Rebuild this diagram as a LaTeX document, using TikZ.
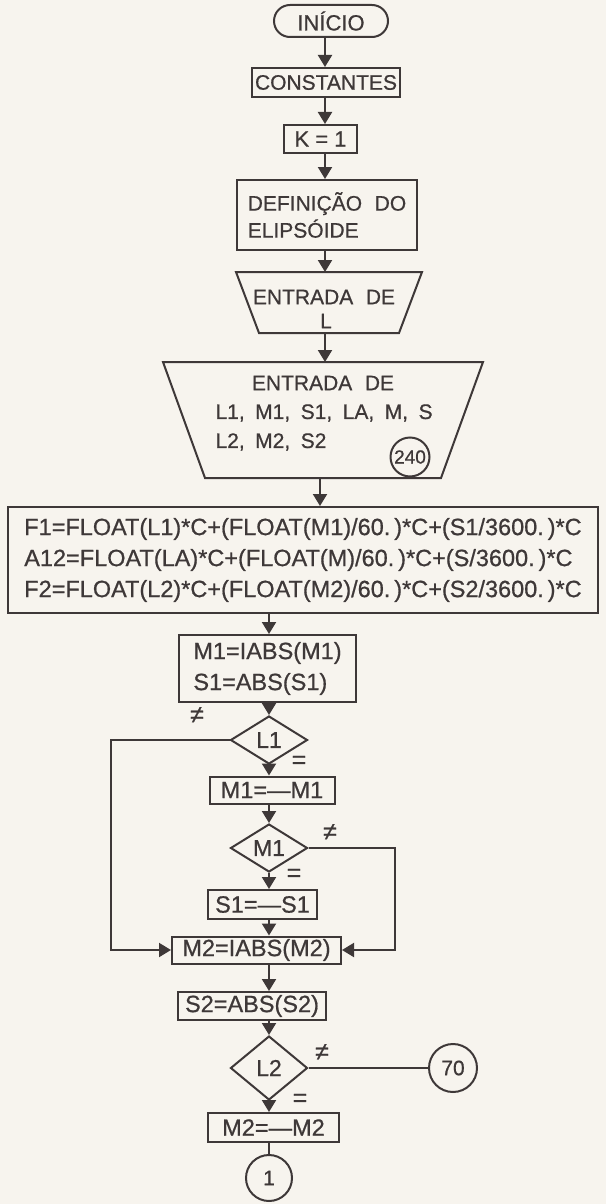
\documentclass[tikz,border=0pt]{standalone}
\usepackage{fontspec}
\setmainfont{Liberation Sans}
\newfontfamily\heavy{Liberation Sans}[FakeBold=0.7]
\usetikzlibrary{arrows.meta,shapes.geometric,shapes.misc}
\definecolor{ink}{HTML}{3E3838}
\definecolor{paper}{HTML}{F7F4EE}
\begin{document}
\begin{tikzpicture}[x=1pt,y=-1pt,
  every node/.style={text=ink, font=\heavy\fontsize{21}{27}\selectfont},
  box/.style={draw=ink, line width=2pt, rectangle, inner sep=0pt},
  dia/.style={draw=ink, line width=2pt, diamond, inner sep=0pt, minimum width=77pt, minimum height=48pt, font=\heavy\fontsize{23}{23}\selectfont},
  circ/.style={draw=ink, line width=2pt, circle, inner sep=0pt},
  arr/.style={draw=ink, line width=2pt, -{Triangle[width=14pt,length=12pt]}},
  ln/.style={draw=ink, line width=2pt},
  shp/.style={draw=ink, line width=2pt, line join=miter},
  lab/.style={font=\heavy\fontsize{25}{25}\selectfont},
  big/.style={font=\heavy\fontsize{23.5}{31}\selectfont}
]
\fill[paper] (0,0) rectangle (606,1204);
\useasboundingbox (0,0) rectangle (606,1204);
\coordinate (ax1) at (325,0);
\coordinate (ax2) at (269,0);

% top column
\node[box, rounded rectangle, minimum width=114pt, minimum height=32pt, font=\heavy\fontsize{22}{22}\selectfont] (ini) at (331,21) {INÍCIO};
\node[box, minimum width=148pt, minimum height=29pt] (const) at (326,82.5) {CONSTANTES};
\node[box, minimum width=73pt, minimum height=28pt, font=\heavy\fontsize{22}{22}\selectfont] (k) at (320.5,139) {K = 1};
\node[box, minimum width=180pt, minimum height=70pt, align=left] (def) at (327,215) {DEFINIÇÃO\hspace{0.6em}DO\\ELIPSÓIDE};

% trapezoid 1
\draw[shp] (236,272) -- (422,272) -- (399,333) -- (259,333) -- cycle;
\coordinate (t1n) at (325,272);
\coordinate (t1s) at (325,333);
\node (t1a) at (324,297) {ENTRADA\hspace{0.6em}DE};
\node (t1b) at (326,321) {L};

% trapezoid 2
\draw[shp] (163,362) -- (483,362) -- (441,478) -- (205,478) -- cycle;
\coordinate (t2n) at (325,362);
\coordinate (t2s) at (320,478);
\node (t2a) at (323,383) {ENTRADA\hspace{0.6em}DE};
\node[anchor=west] (t2b) at (212,413) {L1,\hspace{0.5em}M1,\hspace{0.5em}S1,\hspace{0.5em}LA,\hspace{0.5em}M,\hspace{0.5em}S};
\node[anchor=west] (t2c) at (212,442) {L2,\hspace{0.5em}M2,\hspace{0.5em}S2};
\node[circ, minimum size=39pt, font=\heavy\fontsize{19}{19}\selectfont] (c240) at (410,457) {240};

% formula box
\node[box, big, minimum width=590pt, minimum height=106pt, align=left] (fbox) at (303,560)
 {F1=FLOAT(L1)*C+(FLOAT(M1)/60.\,)*C+(S1/3600.\,)*C\\
  A12=FLOAT(LA)*C+(FLOAT(M)/60.\,)*C+(S/3600.\,)*C\\
  F2=FLOAT(L2)*C+(FLOAT(M2)/60.\,)*C+(S2/3600.\,)*C};

% lower column
\node[box, big, minimum width=177pt, minimum height=67pt, align=left] (m1abs) at (267.5,668.5) {M1=IABS(M1)\\S1=ABS(S1)};
\node[dia] (l1) at (269,740) {L1};
\node[box, big, minimum width=125pt, minimum height=27pt] (m1neg) at (272,790) {M1=—M1};
\node[dia] (m1d) at (269,848) {M1};
\node[box, big, minimum width=109pt, minimum height=29pt] (s1neg) at (262.5,904.5) {S1=—S1};
\node[box, big, minimum width=169pt, minimum height=27pt] (m2abs) at (256.5,950) {M2=IABS(M2)};
\node[box, big, minimum width=148pt, minimum height=28pt] (s2abs) at (252,1006) {S2=ABS(S2)};
\node[dia, minimum height=64pt] (l2) at (269,1068) {L2};
\node[box, big, minimum width=131pt, minimum height=29pt] (m2neg) at (273.5,1127.5) {M2=—M2};
\node[circ, minimum size=46pt] (c1) at (269,1178) {1};
\node[circ, minimum size=48pt] (c70) at (453,1068) {70};

% labels
\node[lab] (ne1) at (197,715) {≠};
\node[lab] (eq1) at (299,762) {=};
\node[lab] (ne2) at (330,832) {≠};
\node[lab] (eq2) at (294,875) {=};
\node[lab] (ne3) at (322,1052) {≠};
\node[lab] (eq3) at (300,1100) {=};

% connectors
\draw[arr] (ini.south -| ax1) -- (const.north -| ax1);
\draw[arr] (const.south -| ax1) -- (k.north -| ax1);
\draw[arr] (k.south -| ax1) -- (def.north -| ax1);
\draw[arr] (def.south -| ax1) -- (t1n);
\draw[arr] (t1s) -- (t2n);
\draw[arr] (t2s) -- (fbox.north -| t2s);
\draw[arr] (fbox.south -| ax2) -- (m1abs.north -| ax2);
\draw[arr] (m1abs.south -| ax2) -- (l1.north);
\draw[arr] (l1.south) -- (m1neg.north -| ax2);
\draw[arr] (m1neg.south -| ax2) -- (m1d.north);
\draw[arr] (m1d.south) -- (s1neg.north -| ax2);
\draw[arr] (s1neg.south -| ax2) -- (m2abs.north -| ax2);
\draw[arr] (m2abs.south -| ax2) -- (s2abs.north -| ax2);
\draw[arr] (s2abs.south -| ax2) -- (l2.north);
\draw[arr] (l2.south) -- (m2neg.north -| ax2);
\draw[ln] (m2neg.south -| ax2) -- (c1.north);
\draw[ln] (l2.east) -- (c70.west);
\draw[arr] (l1.west) -- ++(-119,0) |- (m2abs.west);
\draw[arr] (m1d.east) -- ++(86,0) |- (m2abs.east);
\end{tikzpicture}
\end{document}
